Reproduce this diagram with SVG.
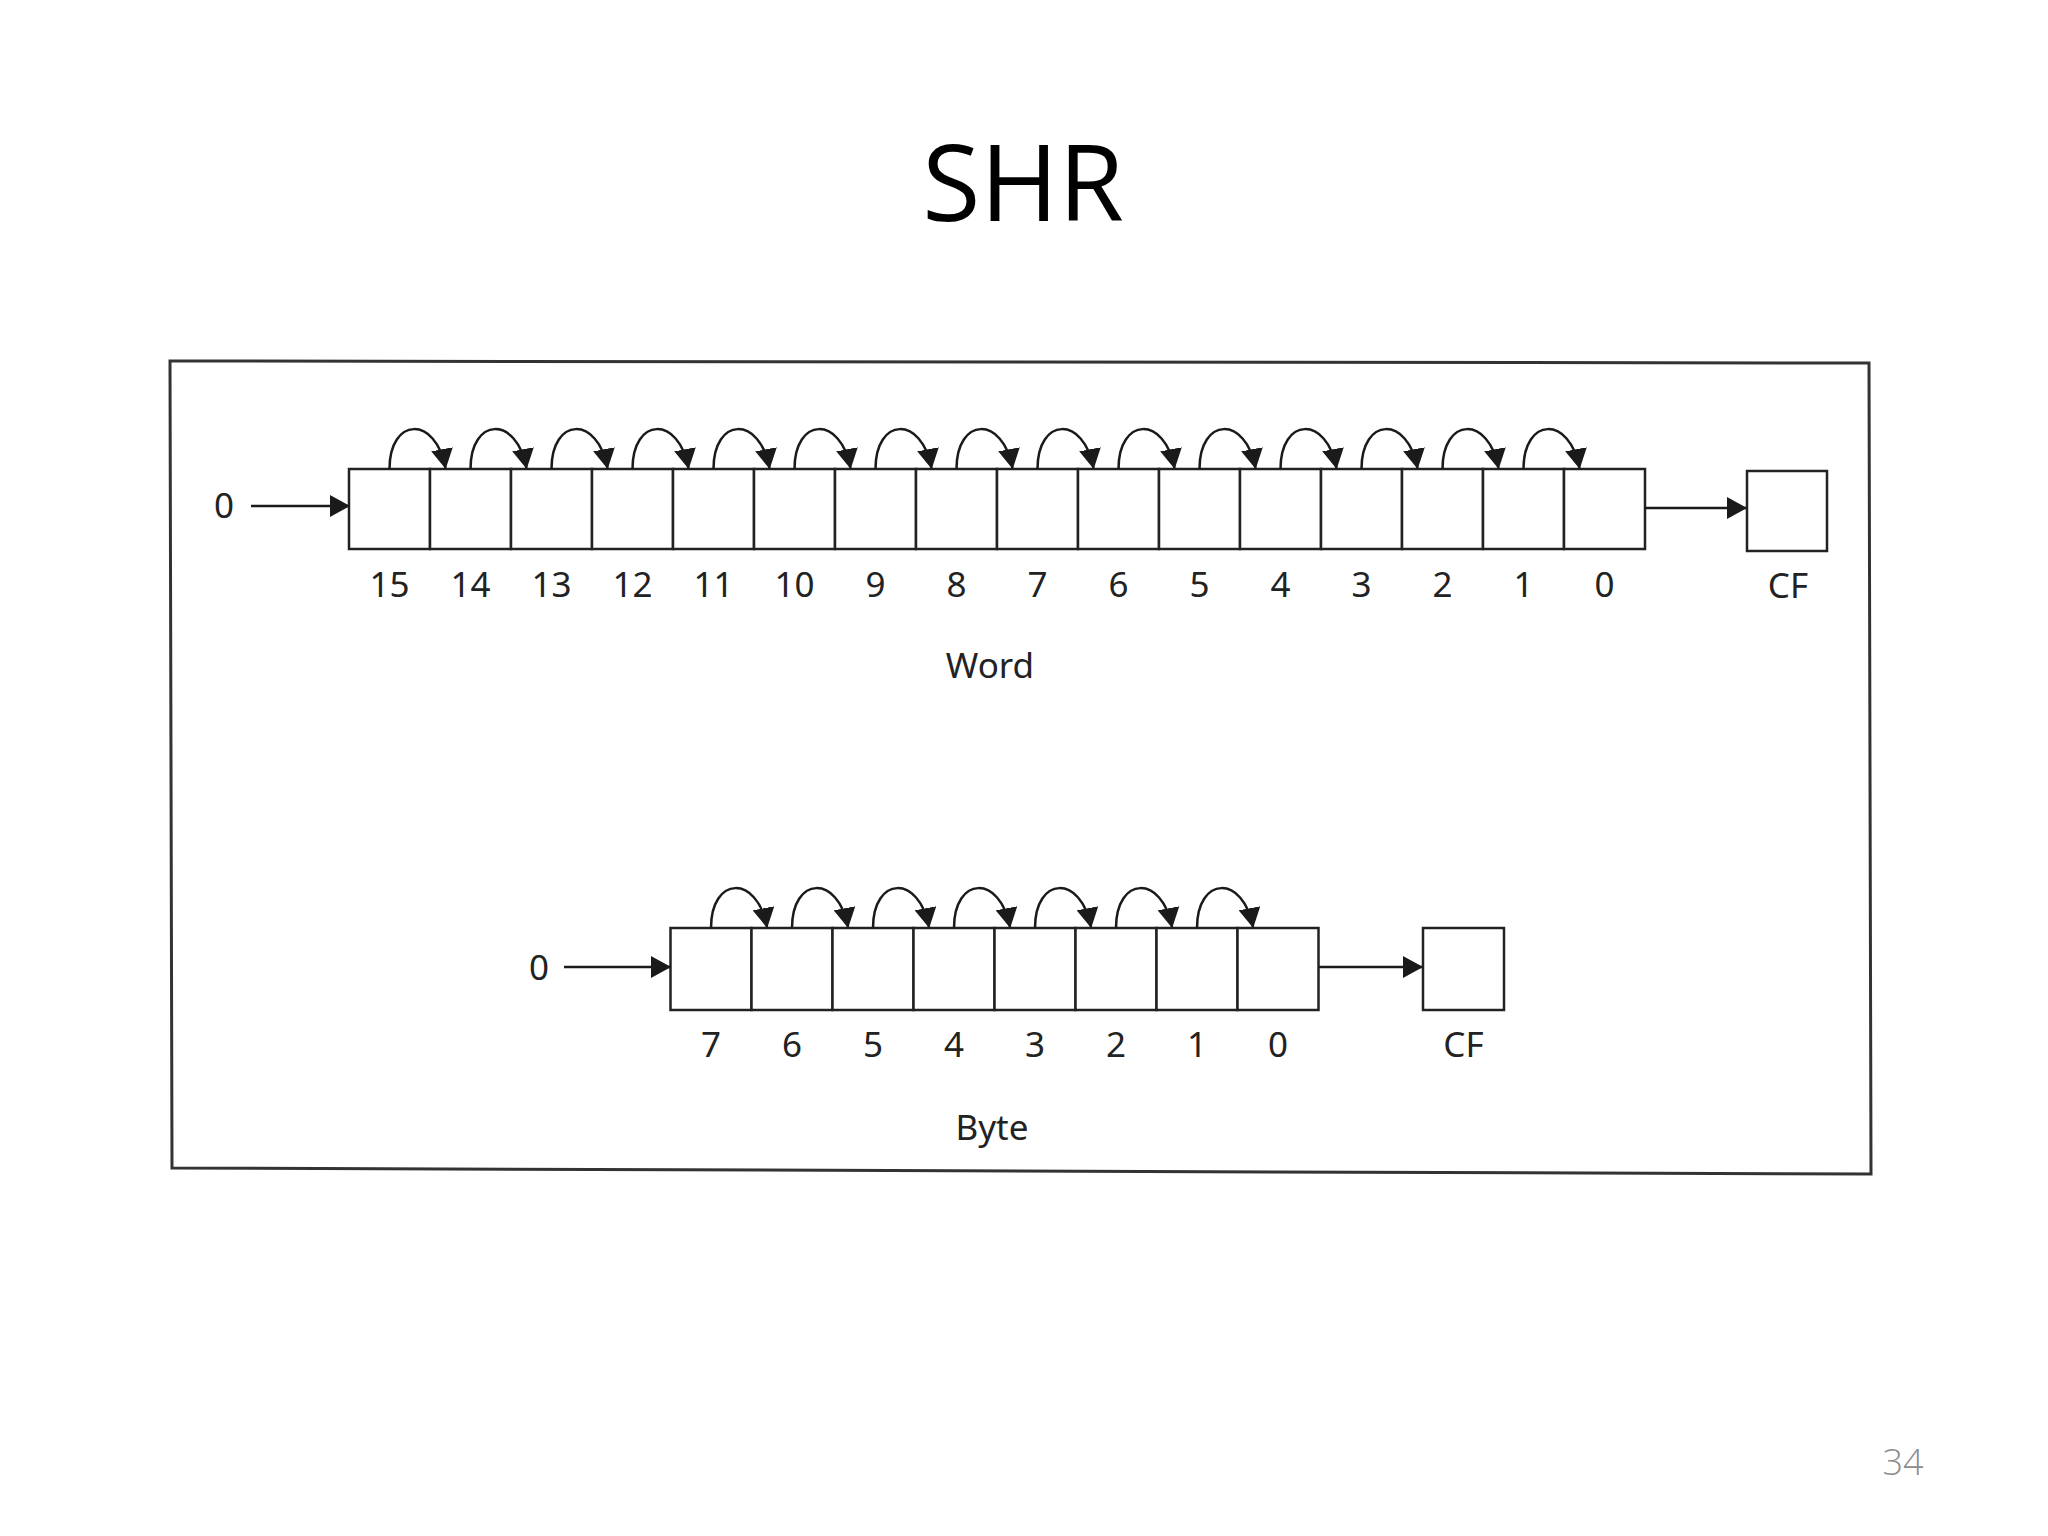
<svg xmlns="http://www.w3.org/2000/svg" width="2048" height="1536" viewBox="0 0 2048 1536">
<defs>
<marker id="ah" viewBox="0 0 20 22" refX="19" refY="11" markerUnits="userSpaceOnUse" markerWidth="20" markerHeight="22" orient="auto">
<path d="M0,0 L20,11 L0,22 z" fill="#1a1a1a"/>
</marker>
<style>
.cell{fill:#fff;stroke:#222;stroke-width:2.5}
.frame{fill:none;stroke:#333;stroke-width:3}
.arc{fill:none;stroke:#1a1a1a;stroke-width:2.5;marker-end:url(#ah)}
.lbl{font-family:"Noto Sans","Open Sans",sans-serif;font-size:35px;fill:#222;text-anchor:middle}
.title{font-family:"Open Sans","Noto Sans",sans-serif;font-size:106px;fill:#000;text-anchor:middle}
.page{font-family:"Open Sans","Noto Sans",sans-serif;font-size:36px;fill:#8c8c8c;text-anchor:middle;font-weight:300}
</style>
</defs>
<rect width="2048" height="1536" fill="#fff"/>
<text class="title" x="1023" y="221">SHR</text>
<polygon class="frame" points="170,361 1869,363 1871,1174 172,1168"/>

<g id="word">
<g id="w15"><rect class="cell" x="349" y="469" width="81" height="80"/><text class="lbl" x="389.5" y="597">15</text></g>
<g id="w14"><rect class="cell" x="430" y="469" width="81" height="80"/><text class="lbl" x="470.5" y="597">14</text></g>
<g id="w13"><rect class="cell" x="511" y="469" width="81" height="80"/><text class="lbl" x="551.5" y="597">13</text></g>
<g id="w12"><rect class="cell" x="592" y="469" width="81" height="80"/><text class="lbl" x="632.5" y="597">12</text></g>
<g id="w11"><rect class="cell" x="673" y="469" width="81" height="80"/><text class="lbl" x="713.5" y="597">11</text></g>
<g id="w10"><rect class="cell" x="754" y="469" width="81" height="80"/><text class="lbl" x="794.5" y="597">10</text></g>
<g id="w9"><rect class="cell" x="835" y="469" width="81" height="80"/><text class="lbl" x="875.5" y="597">9</text></g>
<g id="w8"><rect class="cell" x="916" y="469" width="81" height="80"/><text class="lbl" x="956.5" y="597">8</text></g>
<g id="w7"><rect class="cell" x="997" y="469" width="81" height="80"/><text class="lbl" x="1037.5" y="597">7</text></g>
<g id="w6"><rect class="cell" x="1078" y="469" width="81" height="80"/><text class="lbl" x="1118.5" y="597">6</text></g>
<g id="w5"><rect class="cell" x="1159" y="469" width="81" height="80"/><text class="lbl" x="1199.5" y="597">5</text></g>
<g id="w4"><rect class="cell" x="1240" y="469" width="81" height="80"/><text class="lbl" x="1280.5" y="597">4</text></g>
<g id="w3"><rect class="cell" x="1321" y="469" width="81" height="80"/><text class="lbl" x="1361.5" y="597">3</text></g>
<g id="w2"><rect class="cell" x="1402" y="469" width="81" height="80"/><text class="lbl" x="1442.5" y="597">2</text></g>
<g id="w1"><rect class="cell" x="1483" y="469" width="81" height="80"/><text class="lbl" x="1523.5" y="597">1</text></g>
<g id="w0"><rect class="cell" x="1564" y="469" width="81" height="80"/><text class="lbl" x="1604.5" y="597">0</text></g>
<g id="wcf"><rect class="cell" x="1747" y="471" width="80" height="80"/><text class="lbl" x="1788" y="598">CF</text></g>
<g id="win"><text class="lbl" x="224" y="518">0</text></g>
<text class="lbl" x="990" y="678">Word</text>
</g>

<g id="byte">
<g id="b7"><rect class="cell" x="670.5" y="928" width="81" height="82"/><text class="lbl" x="711" y="1057">7</text></g>
<g id="b6"><rect class="cell" x="751.5" y="928" width="81" height="82"/><text class="lbl" x="792" y="1057">6</text></g>
<g id="b5"><rect class="cell" x="832.5" y="928" width="81" height="82"/><text class="lbl" x="873" y="1057">5</text></g>
<g id="b4"><rect class="cell" x="913.5" y="928" width="81" height="82"/><text class="lbl" x="954" y="1057">4</text></g>
<g id="b3"><rect class="cell" x="994.5" y="928" width="81" height="82"/><text class="lbl" x="1035" y="1057">3</text></g>
<g id="b2"><rect class="cell" x="1075.5" y="928" width="81" height="82"/><text class="lbl" x="1116" y="1057">2</text></g>
<g id="b1"><rect class="cell" x="1156.5" y="928" width="81" height="82"/><text class="lbl" x="1197" y="1057">1</text></g>
<g id="b0"><rect class="cell" x="1237.5" y="928" width="81" height="82"/><text class="lbl" x="1278" y="1057">0</text></g>
<g id="bcf"><rect class="cell" x="1423" y="928" width="81" height="82"/><text class="lbl" x="1463.5" y="1057">CF</text></g>
<g id="bin"><text class="lbl" x="539" y="980">0</text></g>
<text class="lbl" x="992" y="1140">Byte</text>
</g>

<g id="connectors">
<path class="arc" d="M251,506 L349,506"/>
<path class="arc" d="M1645,508 L1746,508"/>
<path class="arc" d="M564,967 L670,967"/>
<path class="arc" d="M1319,967 L1422,967"/>
<path class="arc" d="M389.5,469 C389.5,417 435.5,415 445.5,468"/>
<path class="arc" d="M470.5,469 C470.5,417 516.5,415 526.5,468"/>
<path class="arc" d="M551.5,469 C551.5,417 597.5,415 607.5,468"/>
<path class="arc" d="M632.5,469 C632.5,417 678.5,415 688.5,468"/>
<path class="arc" d="M713.5,469 C713.5,417 759.5,415 769.5,468"/>
<path class="arc" d="M794.5,469 C794.5,417 840.5,415 850.5,468"/>
<path class="arc" d="M875.5,469 C875.5,417 921.5,415 931.5,468"/>
<path class="arc" d="M956.5,469 C956.5,417 1002.5,415 1012.5,468"/>
<path class="arc" d="M1037.5,469 C1037.5,417 1083.5,415 1093.5,468"/>
<path class="arc" d="M1118.5,469 C1118.5,417 1164.5,415 1174.5,468"/>
<path class="arc" d="M1199.5,469 C1199.5,417 1245.5,415 1255.5,468"/>
<path class="arc" d="M1280.5,469 C1280.5,417 1326.5,415 1336.5,468"/>
<path class="arc" d="M1361.5,469 C1361.5,417 1407.5,415 1417.5,468"/>
<path class="arc" d="M1442.5,469 C1442.5,417 1488.5,415 1498.5,468"/>
<path class="arc" d="M1523.5,469 C1523.5,417 1569.5,415 1579.5,468"/>
<path class="arc" d="M711,928 C711,876 757,874 767,927"/>
<path class="arc" d="M792,928 C792,876 838,874 848,927"/>
<path class="arc" d="M873,928 C873,876 919,874 929,927"/>
<path class="arc" d="M954,928 C954,876 1000,874 1010,927"/>
<path class="arc" d="M1035,928 C1035,876 1081,874 1091,927"/>
<path class="arc" d="M1116,928 C1116,876 1162,874 1172,927"/>
<path class="arc" d="M1197,928 C1197,876 1243,874 1253,927"/>
</g>

<text class="page" x="1903" y="1475">34</text>
</svg>
